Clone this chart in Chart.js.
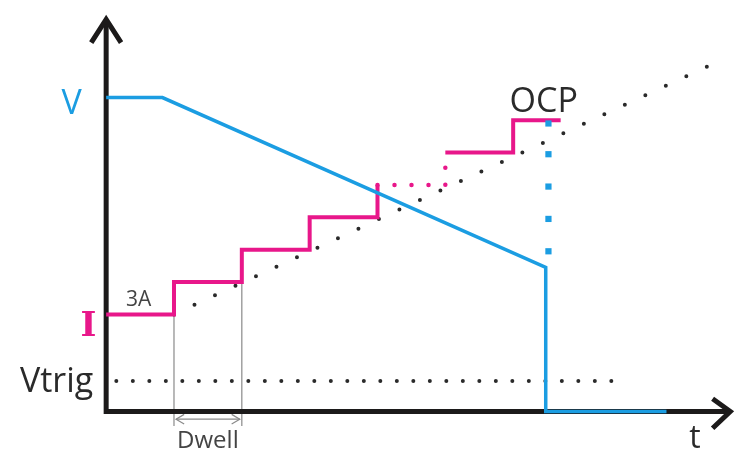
<!DOCTYPE html>
<html>
<head>
<meta charset="utf-8">
<script src="https://cdn.jsdelivr.net/npm/chart.js@4/dist/chart.umd.min.js"></script>
<style>
  html, body { margin: 0; padding: 0; background: #fff; }
  canvas { display: block; }
</style>
</head>
<body>
<canvas id="ocp" width="736" height="455"></canvas>
<script>
// x in dwell steps, y in amps (current) / volts (voltage trace shares the same axis)
const currentSteps = [
  { x: 0, y: 3 }, { x: 1, y: 3 }, { x: 1, y: 4 }, { x: 2, y: 4 }, { x: 2, y: 5 },
  { x: 3, y: 5 }, { x: 3, y: 6 }, { x: 4, y: 6 }, { x: 4, y: 7 }
];
const currentGap = [{ x: 4, y: 7 }, { x: 5, y: 7 }, { x: 5, y: 8 }];
const currentLast = [{ x: 5, y: 8 }, { x: 6, y: 8 }, { x: 6, y: 9 }, { x: 6.7, y: 9 }];
const voltage = [
  { x: 0, y: 9.7 }, { x: 0.83, y: 9.7 }, { x: 6.48, y: 4.45 }, { x: 6.48, y: 0 }, { x: 8.26, y: 0 }
];
const ocpMarks = [4.95, 5.95, 6.95, 7.95, 8.9];
const ocpX = 6.52;
const ramp = [{ x: 1, y: 3 }, { x: 8.9, y: 10.7 }];
const vtrig = [{ x: 0.15, y: 0.94 }, { x: 7.67, y: 0.94 }];
const dwellStart = 1, dwellEnd = 2;

const BLUE = "#1b9de2";
const PINK = "#e8178a";
const INK = "#1c1a1a";
const GREY = "#8a8a8a";

function line(data, color, width, extra) {
  return Object.assign({
    data, borderColor: color, borderWidth: width, pointRadius: 0,
    showLine: true, fill: false, tension: 0, clip: false,
    borderJoinStyle: "miter"
  }, extra || {});
}

const datasets = [
  line([{ x: dwellStart, y: 3 }, { x: dwellStart, y: -0.45 }], GREY, 1.2),
  line([{ x: dwellEnd, y: 4 }, { x: dwellEnd, y: -0.45 }], GREY, 1.2),
  line([{ x: dwellStart + 0.03, y: -0.24 }, { x: dwellEnd - 0.03, y: -0.24 }], GREY, 1.2),
  line([{ x: dwellStart + 0.15, y: -0.09 }, { x: dwellStart + 0.03, y: -0.24 }, { x: dwellStart + 0.15, y: -0.39 }], GREY, 1.2),
  line([{ x: dwellEnd - 0.15, y: -0.09 }, { x: dwellEnd - 0.03, y: -0.24 }, { x: dwellEnd - 0.15, y: -0.39 }], GREY, 1.2),
  line([{ x: 0, y: 12.1 }, { x: 0, y: 0 }, { x: 9.2, y: 0 }], INK, 5),
  line([{ x: -0.22, y: 11.4 }, { x: 0, y: 12.12 }, { x: 0.22, y: 11.4 }], INK, 5),
  line([{ x: 8.94, y: 0.39 }, { x: 9.2, y: 0 }, { x: 8.94, y: -0.52 }], INK, 5),
  line(vtrig, "#2a2a2a", 4, { borderDash: [0, 16.5], borderCapStyle: "round" }),
  line(ramp, "#2a2a2a", 4, { borderDash: [0, 22.6], borderCapStyle: "round" }),
  line(currentSteps, PINK, 4),
  line(currentGap, PINK, 4.5, { borderDash: [0, 17], borderCapStyle: "round" }),
  line(currentLast, PINK, 4),
  line(voltage, BLUE, 3.5),
  {
    data: ocpMarks.map(v => ({ x: ocpX, y: v })),
    showLine: false, pointStyle: "rect", pointRadius: 4.4,
    backgroundColor: BLUE, borderWidth: 0, clip: false
  }
];
// later entries sit on top
datasets.forEach((d, i) => { d.order = datasets.length - i; });

const labels = [
  { text: "V", x: -0.51, y: 9.18, color: BLUE, font: "34px 'Open Sans'" },
  { text: "I", x: -0.26, y: 2.33, color: PINK, font: "bold 34px 'DejaVu Serif'" },
  { text: "Vtrig", x: -0.73, y: 0.61, color: "#2a2a2a", font: "34px 'Open Sans'" },
  { text: "3A", x: 0.48, y: 3.27, color: "#444", font: "21px 'Open Sans'" },
  { text: "OCP", x: 6.45, y: 9.24, color: "#2a2a2a", font: "34px 'Open Sans'" },
  { text: "t", x: 8.68, y: -1.12, color: "#2a2a2a", font: "32px 'Open Sans'" },
  { text: "Dwell", x: 1.5, y: -1.12, color: "#444", font: "24px 'Open Sans'" }
];

const textPlugin = {
  id: "diagramText",
  afterDatasetsDraw(chart) {
    const { ctx, scales } = chart;
    ctx.save();
    ctx.textAlign = "center";
    ctx.textBaseline = "alphabetic";
    labels.forEach(l => {
      ctx.font = l.font;
      ctx.fillStyle = l.color;
      ctx.fillText(l.text, scales.x.getPixelForValue(l.x), scales.y.getPixelForValue(l.y));
    });
    ctx.restore();
  }
};

new Chart(document.getElementById("ocp"), {
  type: "scatter",
  data: { datasets },
  options: {
    responsive: false,
    animation: false,
    events: [],
    layout: { padding: 0 },
    plugins: { legend: { display: false }, tooltip: { enabled: false } },
    scales: {
      x: { type: "linear", display: false, min: -1.5, max: 9.22 },
      y: { type: "linear", display: false, min: -1.21, max: 12.58 }
    }
  },
  plugins: [textPlugin]
});
</script>
</body>
</html>
